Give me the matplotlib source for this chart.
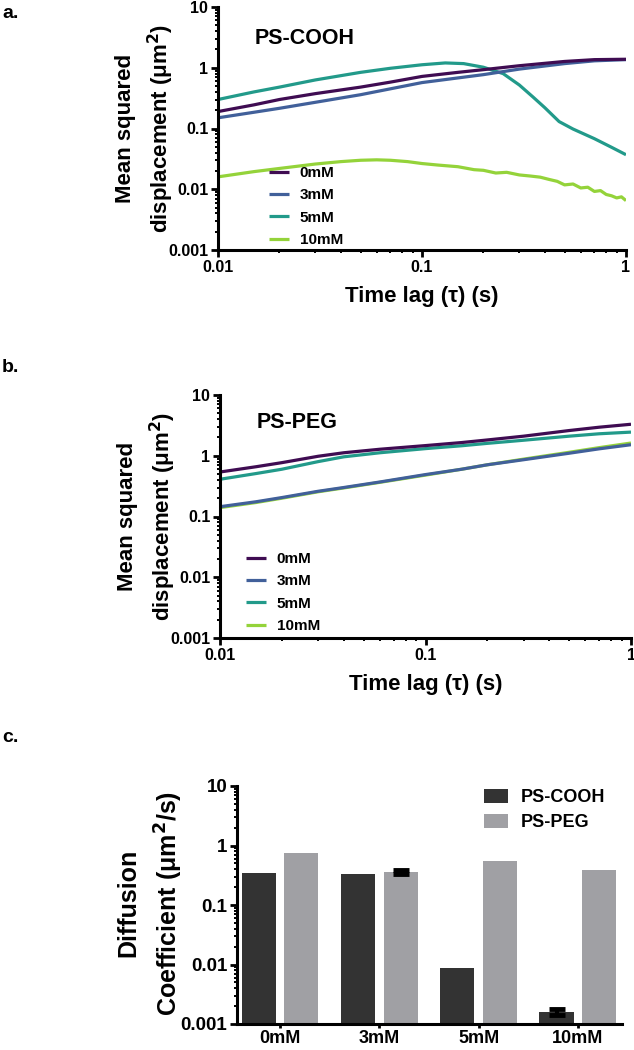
import matplotlib
matplotlib.use("Agg")
import matplotlib.pyplot as plt
import numpy as np
from matplotlib.ticker import LogLocator, FixedLocator, FixedFormatter, NullFormatter

plt.rcParams['font.family'] = ['Liberation Sans', 'DejaVu Sans']
plt.rcParams['font.weight'] = 'bold'
plt.rcParams['mathtext.default'] = 'bf'

# ---------------- data ----------------
conc_labels = ["0mM", "3mM", "5mM", "10mM"]
line_colors = ["#3f0c52", "#41609a", "#229a8a", "#94d33a"]

# Panel a (PS-COOH)
tau_a = [0.01, 0.015, 0.02, 0.03, 0.05, 0.07, 0.1, 0.15, 0.2, 0.3, 0.5, 0.7, 1.0]
msd_a_0 = [0.19, 0.245, 0.30, 0.375, 0.48, 0.58, 0.72, 0.84, 0.93, 1.08, 1.27, 1.36, 1.38]
msd_a_3 = [0.15, 0.185, 0.215, 0.27, 0.36, 0.45, 0.57, 0.68, 0.77, 0.95, 1.17, 1.30, 1.36]
tau_a5 = [0.01, 0.015, 0.02, 0.03, 0.05, 0.07, 0.1, 0.13, 0.16, 0.2, 0.25, 0.3,
          0.35, 0.4, 0.47, 0.55, 0.7, 0.85, 1.0]
msd_a_5 = [0.30, 0.40, 0.48, 0.63, 0.84, 0.98, 1.12, 1.20, 1.17, 1.02, 0.80, 0.52,
           0.33, 0.22, 0.13, 0.098, 0.068, 0.049, 0.037]
tau_a10 = [0.01, 0.015, 0.02, 0.03, 0.04, 0.05, 0.06, 0.07, 0.085, 0.1, 0.12, 0.15,
           0.18, 0.2, 0.23, 0.26, 0.3, 0.34, 0.38, 0.42, 0.46, 0.5, 0.55, 0.6,
           0.65, 0.7, 0.75, 0.8, 0.85, 0.9, 0.95, 1.0]
msd_a_10 = [0.016, 0.0195, 0.022, 0.026, 0.0285, 0.030, 0.0305, 0.030, 0.0285, 0.0265,
            0.025, 0.0235, 0.021, 0.0205, 0.0185, 0.019, 0.0172, 0.0165, 0.0158, 0.0145,
            0.0135, 0.0118, 0.0122, 0.0105, 0.0108, 0.0092, 0.0095, 0.0082, 0.0078,
            0.0072, 0.0075, 0.0065]

# Panel b (PS-PEG)
tau_b = [0.01, 0.015, 0.02, 0.03, 0.04, 0.06, 0.1, 0.15, 0.2, 0.3, 0.5, 0.7, 1.0]
msd_b_0 = [0.54, 0.66, 0.77, 0.98, 1.12, 1.28, 1.47, 1.65, 1.82, 2.1, 2.6, 2.95, 3.3]
msd_b_3 = [0.145, 0.175, 0.205, 0.26, 0.30, 0.37, 0.49, 0.60, 0.71, 0.86, 1.10, 1.30, 1.52]
msd_b_5 = [0.41, 0.51, 0.60, 0.80, 0.96, 1.12, 1.31, 1.46, 1.60, 1.80, 2.1, 2.3, 2.45]
msd_b_10 = [0.14, 0.17, 0.20, 0.255, 0.295, 0.365, 0.48, 0.60, 0.71, 0.88, 1.14, 1.36, 1.62]

# Panel c (diffusion coefficients)
D_cooh = [0.34, 0.33, 0.0087, 0.0016]
D_peg = [0.76, 0.36, 0.55, 0.39]
err_cooh = [0.0, 0.0, 0.0, 0.0002]
err_peg = [0.0, 0.03, 0.0, 0.0]
bar_colors = ["#333333", "#a0a0a4"]
bar_labels = ["PS-COOH", "PS-PEG"]

yticks_log = [0.001, 0.01, 0.1, 1, 10]
ytick_labels = ["0.001", "0.01", "0.1", "1", "10"]
xticks_log = [0.01, 0.1, 1]
xtick_labels = ["0.01", "0.1", "1"]

# ---------------- layout ----------------
W, H = 634, 1050
fig = plt.figure(figsize=(W / 100, H / 100), dpi=100)


def axes_px(left, top, right, bottom):
    return fig.add_axes([left / W, 1 - bottom / H, (right - left) / W, (bottom - top) / H])


def fx(x):
    return x / W


def fy(y):
    return 1 - y / H


def style_axes(ax, tick_fs):
    for s in ["top", "right"]:
        ax.spines[s].set_visible(False)
    for s in ["left", "bottom"]:
        ax.spines[s].set_linewidth(2.2)
    ax.tick_params(which="major", length=5, width=2.0, labelsize=tick_fs, pad=2)
    ax.tick_params(which="minor", length=2.5, width=1.4)
    for lab in ax.get_xticklabels() + ax.get_yticklabels():
        lab.set_fontweight("bold")


def msd_panel(ax, series):
    ax.set_xscale("log")
    ax.set_yscale("log")
    handles = [None] * 4
    for i in [3, 2, 1, 0]:
        t, v = series[i]
        h, = ax.plot(t, v, color=line_colors[i], lw=2.3, solid_capstyle="butt")
        handles[i] = h
    ax.set_xlim(0.01, 1)
    ax.set_ylim(0.001, 10)
    ax.yaxis.set_major_locator(FixedLocator(yticks_log))
    ax.yaxis.set_major_formatter(FixedFormatter(ytick_labels))
    ax.yaxis.set_minor_locator(LogLocator(base=10, subs=np.arange(2, 10)))
    ax.yaxis.set_minor_formatter(NullFormatter())
    ax.xaxis.set_major_locator(FixedLocator(xticks_log))
    ax.xaxis.set_major_formatter(FixedFormatter(xtick_labels))
    ax.xaxis.set_minor_locator(LogLocator(base=10, subs=np.arange(2, 10)))
    ax.xaxis.set_minor_formatter(NullFormatter())
    style_axes(ax, 11.5)
    ax.set_xlabel("Time lag (\u03c4) (s)", fontsize=16, fontweight="bold", labelpad=8)
    return handles


legend_kw = dict(frameon=False, handlelength=1.3, handletextpad=0.7,
                 labelspacing=0.55, borderpad=0, borderaxespad=0,
                 prop={"weight": "bold", "size": 11})

# Panel a
ax_a = axes_px(218, 7, 626, 250)
ha = msd_panel(ax_a, [(tau_a, msd_a_0), (tau_a, msd_a_3), (tau_a5, msd_a_5), (tau_a10, msd_a_10)])
fig.text(fx(255), fy(38), "PS-COOH", fontsize=15.5, fontweight="bold", va="center", ha="left")
fig.legend(ha, conc_labels, loc="upper left", bbox_to_anchor=(fx(269), fy(166)), **legend_kw)
fig.text(fx(126), fy(128), "Mean squared", rotation=90, fontsize=16, fontweight="bold",
         ha="center", va="center")
fig.text(fx(161), fy(128), "displacement (\u03bcm$^{2}$)", rotation=90, fontsize=16,
         fontweight="bold", ha="center", va="center")
fig.text(fx(2), fy(14), "a.", fontsize=14, fontweight="bold", ha="left", va="center")

# Panel b
ax_b = axes_px(220, 395, 631, 638)
hb = msd_panel(ax_b, [(tau_b, msd_b_0), (tau_b, msd_b_3), (tau_b, msd_b_5), (tau_b, msd_b_10)])
fig.text(fx(257), fy(423), "PS-PEG", fontsize=15.5, fontweight="bold", va="center", ha="left")
fig.legend(hb, conc_labels, loc="upper left", bbox_to_anchor=(fx(246), fy(552)), **legend_kw)
fig.text(fx(128), fy(516), "Mean squared", rotation=90, fontsize=16, fontweight="bold",
         ha="center", va="center")
fig.text(fx(163), fy(516), "displacement (\u03bcm$^{2}$)", rotation=90, fontsize=16,
         fontweight="bold", ha="center", va="center")
fig.text(fx(2), fy(368), "b.", fontsize=14, fontweight="bold", ha="left", va="center")

# Panel c
ax_c = axes_px(237, 786, 622, 1024)
ax_c.set_yscale("log")
x = np.arange(len(conc_labels))
off, bw = 0.215, 0.345
b1 = ax_c.bar(x - off, D_cooh, width=bw, color=bar_colors[0], label=bar_labels[0])
b2 = ax_c.bar(x + off, D_peg, width=bw, color=bar_colors[1], label=bar_labels[1])
for xs, vals, errs in [(x - off, D_cooh, err_cooh), (x + off, D_peg, err_peg)]:
    idx = [i for i, e in enumerate(errs) if e > 0]
    if idx:
        ax_c.errorbar([xs[i] for i in idx], [vals[i] for i in idx],
                      yerr=[errs[i] for i in idx], fmt="none", ecolor="black",
                      elinewidth=3, capsize=6, capthick=3.5)
ax_c.set_ylim(0.001, 10)
ax_c.set_xlim(-0.433, 3.444)
ax_c.yaxis.set_major_locator(FixedLocator(yticks_log))
ax_c.yaxis.set_major_formatter(FixedFormatter(ytick_labels))
ax_c.yaxis.set_minor_locator(LogLocator(base=10, subs=np.arange(2, 10)))
ax_c.yaxis.set_minor_formatter(NullFormatter())
ax_c.set_xticks(x)
ax_c.set_xticklabels(conc_labels)
style_axes(ax_c, 13.5)
ax_c.tick_params(axis="x", which="major", length=3, pad=1.5, labelsize=13)
fig.legend([b1, b2], bar_labels, loc="upper left", bbox_to_anchor=(fx(484), fy(789)),
           frameon=False, handlelength=1.35, handleheight=0.8, handletextpad=0.7,
           labelspacing=0.45, borderpad=0, borderaxespad=0, prop={"weight": "bold", "size": 13})
fig.text(fx(128), fy(903), "Diffusion", rotation=90, fontsize=18, fontweight="bold",
         ha="center", va="center")
fig.text(fx(169), fy(903), "Coefficient (\u03bcm$^{2}$/s)", rotation=90, fontsize=18,
         fontweight="bold", ha="center", va="center")
fig.text(fx(2), fy(738), "c.", fontsize=14, fontweight="bold", ha="left", va="center")

fig.savefig("out.png", dpi=100)
